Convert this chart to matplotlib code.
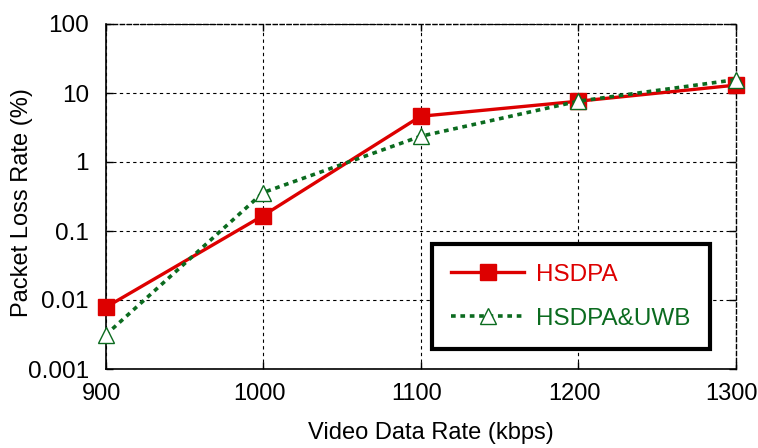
import matplotlib
matplotlib.use("Agg")
import matplotlib.pyplot as plt
from matplotlib.transforms import ScaledTranslation

plt.rcParams['font.family'] = ['Liberation Sans', 'DejaVu Sans']

rates = [900, 1000, 1100, 1200, 1300]
hsdpa = [0.0078, 0.167, 4.6, 7.6, 13.0]
hsdpa_uwb = [0.0031, 0.36, 2.36, 7.6, 15.6]
y_ticks = [0.001, 0.01, 0.1, 1, 10, 100]
y_tick_labels = ['0.001', '0.01', '0.1', '1', '10', '100']

red = '#dd0000'
green = '#0b6b1f'

fig = plt.figure(figsize=(7.58, 4.48), dpi=100)
ax = fig.add_axes([105.5 / 758, 1 - 369 / 448, (735.7 - 105.5) / 758, (369 - 24) / 448])

ax.plot(rates, hsdpa, color=red, lw=2.4, marker='s', markersize=12,
        markerfacecolor=red, markeredgecolor=red, label='HSDPA', zorder=4, clip_on=False)
ax.plot(rates, hsdpa_uwb, color=green, lw=2.6, linestyle=(0, (1.3, 1.3)), marker='^',
        markersize=11, markerfacecolor='white', markeredgecolor=green, markeredgewidth=1.0,
        label='HSDPA&UWB', zorder=5, clip_on=False)

ax.set_yscale('log')
ax.set_xlim(900, 1300)
ax.set_ylim(0.001, 100)
ax.set_xticks(rates)
ax.set_yticks(y_ticks)
ax.set_yticklabels(y_tick_labels)
ax.minorticks_off()
ax.tick_params(axis='both', labelsize=17.5, direction='in', length=5, width=1,
               top=True, right=True)
ax.tick_params(axis='x', pad=10, labelsize=17)
ax.tick_params(axis='y', pad=12)

# nudge the x tick labels slightly left so the last one stays on the canvas
shift = ScaledTranslation(-4 / 100, 0, fig.dpi_scale_trans)
for lbl in ax.get_xticklabels():
    lbl.set_transform(lbl.get_transform() + shift)

ax.grid(True, which='major', color='black', linestyle=(0, (3, 3)), linewidth=0.8)
for side in ['left', 'bottom']:
    ax.spines[side].set_linewidth(1.2)
for side in ['top', 'right']:
    ax.spines[side].set_linestyle((0, (3, 2)))
    ax.spines[side].set_linewidth(1.0)

ax.set_xlabel('Video Data Rate (kbps)', fontsize=17, va='center')
ax.set_ylabel('Packet Loss Rate (%)', fontsize=17, va='center')
ax.xaxis.set_label_coords(431 / 758, 1 - 433 / 448, transform=fig.transFigure)
ax.yaxis.set_label_coords(22 / 758, 1 - 203 / 448, transform=fig.transFigure)

leg = ax.legend(loc='lower right', bbox_to_anchor=(710 / 758, 1 - 349 / 448),
                bbox_transform=fig.transFigure, fontsize=17.5, frameon=True,
                fancybox=False, edgecolor='black', framealpha=1.0, handlelength=3.0,
                borderpad=0.8, labelspacing=0.9, handletextpad=0.5, borderaxespad=0)
leg.get_frame().set_linewidth(3)
for text, col in zip(leg.get_texts(), [red, green]):
    text.set_color(col)

fig.savefig('out.png', dpi=100)
